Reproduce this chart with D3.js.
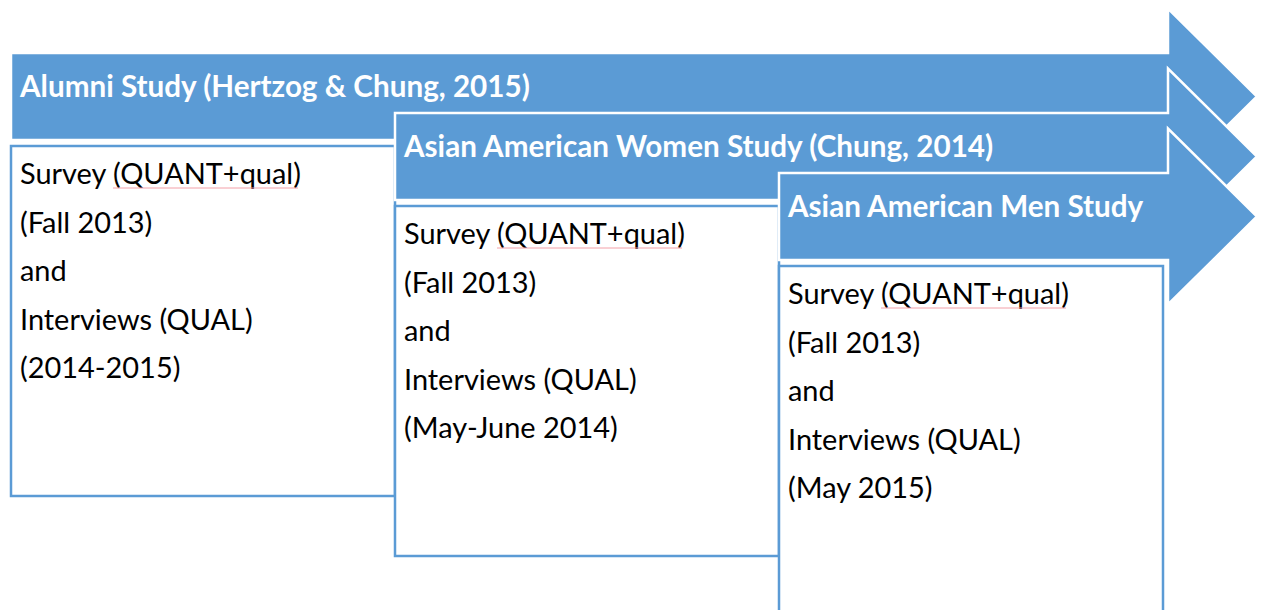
<!DOCTYPE html>
<html>
<head>
<meta charset="utf-8">
<script src="https://cdn.jsdelivr.net/npm/d3@7"></script>
<style>
  body { margin: 0; background: #fff; }
  svg { display: block; }
</style>
</head>
<body>
<div id="timeline"></div>
<script>
let width = 1263,
    height = 610;

// the three studies, left to right
const studies = ["Alumni Study (Hertzog & Chung, 2015)",
                 "Asian American Women Study (Chung, 2014)",
                 "Asian American Men Study"];
const surveyLines = ["Survey (QUANT+qual)", "Survey (QUANT+qual)", "Survey (QUANT+qual)"];
const surveyDates = ["(Fall 2013)", "(Fall 2013)", "(Fall 2013)"];
const joiners = ["and", "and", "and"];
const interviewLines = ["Interviews (QUAL)", "Interviews (QUAL)", "Interviews (QUAL)"];
const interviewDates = ["(2014-2015)", "(May-June 2014)", "(May 2015)"];

const blue = "#5b9bd5";

const svg = d3.select("#timeline") //svg for the whole diagram
    .append("svg")
    .attr("width", width)
    .attr("height", height)
    .attr("viewBox", [0, 0, width, height]);

// each study steps right and down
let x = d3.scaleLinear().domain([0, 1]).range([11, 395]);
let y = d3.scaleLinear().domain([0, 1]).range([53, 113]);

const bodyH = 87, headX = 1168, tipX = 1257, boxW = 384, boxH = 350;

let fitText = (sel, target) => { //scale the font so the first line hits the width in the picture
  let w = sel.node().getComputedTextLength();
  let fs = parseFloat(sel.attr("font-size"));
  return fs * target / w;
};

// measure fonts once
let probe = svg.append("text").attr("font-family", "Lato, 'Open Sans', sans-serif")
    .attr("font-weight", "bold").attr("font-size", 24).text(studies[0]);
let titleSize = fitText(probe, 510);
probe.attr("font-weight", "normal").text(surveyLines[0]);
let bodySize = fitText(probe, 281);
probe.remove();

studies.forEach((title, i) => {
  let x0 = x(i), top = y(i), bottom = top + bodyH, mid = top + bodyH / 2;

  let g = svg.append("g");

  g.append("path") //arrow body + head
    .attr("d", `M${x0},${top} L${headX},${top} L${headX},${mid - 88} L${tipX},${mid} L${headX},${mid + 88} L${headX},${bottom} L${x0},${bottom} Z`)
    .attr("fill", blue)
    .attr("stroke", "#fff")
    .attr("stroke-width", 2.5);

  g.append("text")
    .text(title)
    .attr("x", x0 + 9)
    .attr("y", top + 44)
    .attr("fill", "#fff")
    .attr("font-family", "Lato, 'Open Sans', sans-serif")
    .attr("font-weight", "bold")
    .attr("font-size", titleSize);

  let boxTop = bottom + 6;
  g.append("rect") //white box under the arrow
    .attr("x", x0)
    .attr("y", boxTop)
    .attr("width", boxW)
    .attr("height", boxH)
    .attr("fill", "#fff")
    .attr("stroke", blue)
    .attr("stroke-width", 2.5);

  let lines = [surveyLines[i], surveyDates[i], joiners[i], interviewLines[i], interviewDates[i]];
  lines.forEach((l, j) => {
    g.append("text")
      .text(l)
      .attr("x", x0 + 9)
      .attr("y", boxTop + 38 + j * 48.5)
      .attr("fill", "#000")
      .attr("font-family", "Lato, 'Open Sans', sans-serif")
      .attr("font-size", bodySize);
  });

  // spell check squiggle under QUANT+qual
  g.append("line")
    .attr("x1", x0 + 102).attr("x2", x0 + 287)
    .attr("y1", boxTop + 42).attr("y2", boxTop + 42)
    .attr("stroke", "#f3a0a8")
    .attr("stroke-width", 1);
});
</script>
</body>
</html>
